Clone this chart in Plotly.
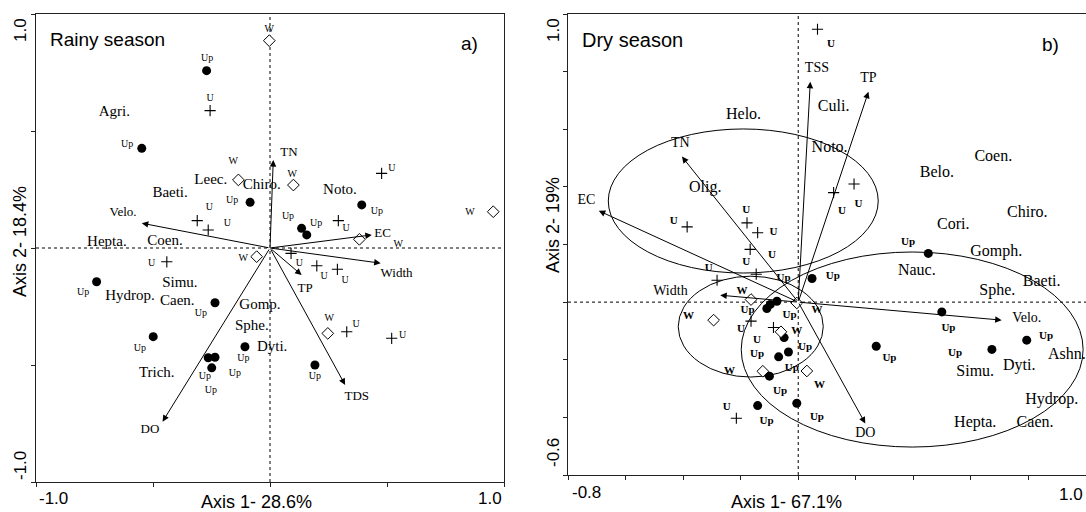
import plotly.graph_objects as go

FW, FH = 1086, 512
SERIF = "Liberation Serif, Times New Roman, serif"
SANS = "Liberation Sans, Arial, sans-serif"

# ---------------- (a) Rainy season ----------------
rainy_up_x = [-0.271, -0.548, -0.085, 0.392, 0.135, 0.157, -0.741, -0.235, -0.499, -0.264, -0.235, -0.249, -0.107, 0.192]
rainy_up_y = [0.758, 0.426, 0.195, 0.184, 0.084, 0.056, -0.144, -0.234, -0.379, -0.469, -0.467, -0.512, -0.422, -0.500]
rainy_up_lx = [-0.269, -0.611, -0.162, 0.457, 0.077, 0.197, -0.799, -0.295, -0.556, -0.278, -0.150, -0.253, -0.114, 0.192]
rainy_up_ly = [0.808, 0.444, 0.205, 0.154, 0.134, 0.103, -0.192, -0.282, -0.429, -0.550, -0.535, -0.610, -0.471, -0.551]

rainy_u_x = [-0.256, -0.311, -0.264, 0.477, 0.292, -0.441, 0.090, 0.200, 0.288, 0.328, 0.520]
rainy_u_y = [0.587, 0.117, 0.077, 0.319, 0.117, -0.059, -0.023, -0.076, -0.091, -0.358, -0.386]
rainy_u_lx = [-0.256, -0.259, -0.182, 0.521, 0.325, -0.506, 0.125, 0.231, 0.321, 0.368, 0.567]
rainy_u_ly = [0.637, 0.172, 0.103, 0.338, 0.084, -0.065, -0.068, -0.123, -0.137, -0.325, -0.372]

rainy_w_x = [-0.003, -0.135, 0.100, 0.954, 0.382, -0.057, 0.247]
rainy_w_y = [0.886, 0.291, 0.269, 0.155, 0.037, -0.037, -0.365]
rainy_w_lx = [-0.003, -0.157, 0.095, 0.855, 0.548, -0.114, 0.253]
rainy_w_ly = [0.932, 0.368, 0.312, 0.151, 0.016, -0.044, -0.300]

rainy_env = ["Velo.", "TN", "EC", "Width", "TP", "TDS", "DO"]
rainy_env_x = [-0.548, 0.014, 0.435, 0.473, 0.135, 0.321, -0.459]
rainy_env_y = [0.106, 0.376, 0.056, -0.065, -0.115, -0.585, -0.742]
rainy_env_lx = [-0.628, 0.081, 0.481, 0.541, 0.150, 0.371, -0.513]
rainy_env_ly = [0.150, 0.407, 0.063, -0.108, -0.176, -0.635, -0.778]

rainy_taxa = ["Agri.", "Leec.", "Chiro.", "Baeti.", "Noto.", "Hepta.", "Coen.", "Simu.",
              "Hydrop.", "Caen.", "Gomp.", "Sphe.", "Dyti.", "Trich."]
rainy_taxa_x = [-0.665, -0.253, -0.035, -0.427, 0.299, -0.697, -0.449, -0.385,
                -0.598, -0.396, -0.043, -0.078, 0.009, -0.484]
rainy_taxa_y = [0.582, 0.291, 0.269, 0.234, 0.248, 0.026, 0.027, -0.151,
                -0.208, -0.226, -0.244, -0.336, -0.423, -0.535]

# ---------------- (b) Dry season ----------------
dry_up_x = [0.452, 0.048, 0.499, 0.271, 0.673, 0.794, -0.097, -0.074, -0.109, -0.049, -0.068, -0.034, -0.100, -0.005, -0.141]
dry_up_y = [0.169, 0.082, -0.034, -0.153, -0.164, -0.132, -0.008, 0.003, -0.022, -0.123, -0.190, -0.173, -0.257, -0.351, -0.359]
dry_up_lx = [0.382, 0.120, 0.522, 0.317, 0.545, 0.861, -0.176, -0.051, -0.030, 0.024, -0.143, -0.022, -0.063, 0.065, -0.110]
dry_up_ly = [0.209, 0.090, -0.091, -0.195, -0.178, -0.120, -0.028, 0.082, -0.045, -0.157, -0.182, -0.230, -0.308, -0.398, -0.413]

dry_u_x = [0.067, 0.123, 0.194, -0.386, -0.178, -0.141, -0.167, -0.146, -0.282, -0.164, -0.086, -0.215]
dry_u_y = [0.947, 0.380, 0.410, 0.261, 0.275, 0.241, 0.183, 0.097, 0.076, -0.066, -0.088, -0.403]
dry_u_lx = [0.114, 0.152, 0.209, -0.433, -0.181, -0.086, -0.091, -0.181, -0.311, -0.199, -0.143, -0.248]
dry_u_ly = [0.896, 0.314, 0.340, 0.282, 0.319, 0.241, 0.163, 0.140, 0.117, -0.095, -0.132, -0.364]

dry_w_x = [-0.164, -0.005, -0.294, -0.060, -0.123, 0.030]
dry_w_y = [0.009, -0.003, -0.0625, -0.103, -0.240, -0.239]
dry_w_lx = [-0.195, 0.065, -0.381, -0.005, -0.239, 0.074]
dry_w_ly = [0.039, -0.028, -0.049, -0.100, -0.239, -0.288]

dry_env = ["TSS", "TP", "TN", "EC", "Width", "Velo.", "DO"]
dry_env_x = [0.042, 0.244, -0.404, -0.693, -0.271, 0.707, 0.233]
dry_env_y = [0.765, 0.730, 0.505, 0.317, 0.024, -0.0625, -0.421]
dry_env_lx = [0.065, 0.244, -0.410, -0.736, -0.444, 0.794, 0.233]
dry_env_ly = [0.811, 0.777, 0.551, 0.354, 0.036, -0.057, -0.456]

dry_taxa = ["Helo.", "Olig.", "Culi.", "Noto.", "Coen.", "Belo.", "Chiro.", "Cori.", "Gomph.",
            "Nauc.", "Baeti.", "Sphe.", "Simu.", "Dyti.", "Hydrop.", "Caen.", "Hepta."]
dry_taxa_x = [-0.190, -0.323, 0.123, 0.109, 0.678, 0.482, 0.796, 0.539, 0.688,
              0.412, 0.846, 0.692, 0.615, 0.768, 0.881, 0.823, 0.615]
dry_taxa_y = [0.649, 0.395, 0.678, 0.534, 0.505, 0.449, 0.310, 0.267, 0.175,
              0.109, 0.070, 0.039, -0.242, -0.222, -0.338, -0.419, -0.421]
dry_taxa_edge = ["Ashn."]
dry_taxa_edge_x = [0.868]
dry_taxa_edge_y = [-0.184]

# group envelopes (bounding boxes of ellipses, dry season): x0, x1, y0, y1
dry_ellipse_u = [-0.660, 0.278, 0.101, 0.601]
dry_ellipse_w = [-0.417, 0.087, -0.260, 0.090]
dry_ellipse_up = [-0.198, 0.990, -0.503, 0.174]

fig = go.Figure()


def add_panel(xa, ya, up, u, w, env, taxa, small_font, env_font, taxa_size):
    (ux, uy, ulx, uly) = up
    (cx, cy, clx, cly) = u
    (wx, wy, wlx, wly) = w
    (en, ex, ey, elx, ely) = env
    (tn, tx, ty) = taxa
    fig.add_trace(go.Scatter(x=ux, y=uy, mode="markers", xaxis=xa, yaxis=ya,
                             marker=dict(symbol="circle", size=9, color="black"), showlegend=False, hoverinfo="skip"))
    fig.add_trace(go.Scatter(x=cx, y=cy, mode="markers", xaxis=xa, yaxis=ya,
                             marker=dict(symbol="cross-thin", size=8, line=dict(color="black", width=1.1)),
                             showlegend=False, hoverinfo="skip"))
    fig.add_trace(go.Scatter(x=wx, y=wy, mode="markers", xaxis=xa, yaxis=ya,
                             marker=dict(symbol="diamond", size=9, color="white", line=dict(color="black", width=1)),
                             showlegend=False, hoverinfo="skip"))
    fig.add_trace(go.Scatter(x=ulx, y=uly, mode="text", text=["Up"] * len(ulx), xaxis=xa, yaxis=ya,
                             textfont=small_font, showlegend=False, hoverinfo="skip"))
    fig.add_trace(go.Scatter(x=clx, y=cly, mode="text", text=["U"] * len(clx), xaxis=xa, yaxis=ya,
                             textfont=small_font, showlegend=False, hoverinfo="skip"))
    fig.add_trace(go.Scatter(x=wlx, y=wly, mode="text", text=["W"] * len(wlx), xaxis=xa, yaxis=ya,
                             textfont=small_font, showlegend=False, hoverinfo="skip"))
    fig.add_trace(go.Scatter(x=elx, y=ely, mode="text", text=en, xaxis=xa, yaxis=ya,
                             textfont=env_font, showlegend=False, hoverinfo="skip"))
    fig.add_trace(go.Scatter(x=tx, y=ty, mode="text", text=tn, xaxis=xa, yaxis=ya,
                             textfont=dict(family=SERIF, size=taxa_size, color="black"),
                             showlegend=False, hoverinfo="skip"))
    xr = "x" if xa == "x" else "x2"
    yr = "y" if ya == "y" else "y2"
    for x_, y_ in zip(ex, ey):
        fig.add_annotation(x=x_, y=y_, ax=0, ay=0, xref=xr, yref=yr, axref=xr, ayref=yr,
                           text="", showarrow=True, arrowhead=2, arrowsize=1.3, arrowwidth=1,
                           arrowcolor="black", standoff=0, startstandoff=0)


add_panel("x", "y",
          (rainy_up_x, rainy_up_y, rainy_up_lx, rainy_up_ly),
          (rainy_u_x, rainy_u_y, rainy_u_lx, rainy_u_ly),
          (rainy_w_x, rainy_w_y, rainy_w_lx, rainy_w_ly),
          (rainy_env, rainy_env_x, rainy_env_y, rainy_env_lx, rainy_env_ly),
          (rainy_taxa, rainy_taxa_x, rainy_taxa_y),
          dict(family=SERIF, size=10, color="black"),
          dict(family=SERIF, size=13, color="black"), 15)

add_panel("x2", "y2",
          (dry_up_x, dry_up_y, dry_up_lx, dry_up_ly),
          (dry_u_x, dry_u_y, dry_u_lx, dry_u_ly),
          (dry_w_x, dry_w_y, dry_w_lx, dry_w_ly),
          (dry_env, dry_env_x, dry_env_y, dry_env_lx, dry_env_ly),
          (dry_taxa, dry_taxa_x, dry_taxa_y),
          dict(family=SERIF, size=11, color="black", weight="bold"),
          dict(family=SERIF, size=14, color="black"), 16)

fig.add_trace(go.Scatter(x=dry_taxa_edge_x, y=dry_taxa_edge_y, mode="text", text=dry_taxa_edge,
                         textposition="middle right", xaxis="x2", yaxis="y2",
                         textfont=dict(family=SERIF, size=16, color="black"),
                         showlegend=False, hoverinfo="skip", cliponaxis=False))

shapes = []
# zero lines
for xr, yr, xlo, xhi, ylo, yhi in [("x", "y", -1, 1, -1, 1), ("x2", "y2", -0.8, 1.0, -0.6, 1.0)]:
    shapes.append(dict(type="line", xref=xr, yref=yr, x0=0, x1=0, y0=ylo, y1=yhi, layer="below",
                       line=dict(color="black", width=1, dash="3px,3px")))
    shapes.append(dict(type="line", xref=xr, yref=yr, x0=xlo, x1=xhi, y0=0, y1=0, layer="below",
                       line=dict(color="black", width=1, dash="3px,3px")))
for e in (dry_ellipse_u, dry_ellipse_w, dry_ellipse_up):
    shapes.append(dict(type="circle", xref="x2", yref="y2", x0=e[0], x1=e[1], y0=e[2], y1=e[3],
                       layer="below", line=dict(color="black", width=1)))


def px(x, y):
    return x / FW, 1 - y / FH


annots = []


def lab(text, x, y, size, angle=0, family=SANS, xanchor="center"):
    ax_, ay_ = px(x, y)
    annots.append(dict(text=text, x=ax_, y=ay_, xref="paper", yref="paper", showarrow=False,
                       textangle=angle, font=dict(family=family, size=size, color="black"),
                       xanchor=xanchor, yanchor="middle"))


# panel (a) labels
lab("-1.0", 53, 498, 17)
lab("1.0", 490, 498, 17)
lab("Axis 1- 28.6%", 256, 502, 18)
lab("1.0", 20, 30, 17, -90)
lab("-1.0", 20, 466, 17, -90)
lab("Axis 2- 18.4%", 20, 242, 18, -90)
lab("Rainy season", 48, 39, 19, xanchor="left")
lab("a)", 469, 43, 19)
# panel (b) labels
lab("-0.8", 586, 492, 17)
lab("1.0", 1071, 494, 17)
lab("Axis 1- 67.1%", 786, 502, 18)
lab("1.0", 553, 30, 17, -90)
lab("-0.6", 553, 453, 17, -90)
lab("Axis 2- 19%", 553, 225, 18, -90)
lab("Dry season", 580, 40, 20, xanchor="left")
lab("b)", 1050, 44, 19)

for a in annots:
    fig.add_annotation(**a)

axis_common = dict(showgrid=False, zeroline=False, showline=True, linecolor="#222", linewidth=1.3,
                   ticks="outside", ticklen=4, tickcolor="#222", showticklabels=False)

fig.update_layout(
    width=FW, height=FH, margin=dict(l=0, r=0, t=0, b=0),
    paper_bgcolor="white", plot_bgcolor="white", showlegend=False,
    shapes=shapes,
    xaxis=dict(domain=[36 / FW, 504 / FW], range=[-1, 1], tickvals=[-1, -0.5, 0, 0.5, 1],
               mirror=True, anchor="y", **axis_common),
    yaxis=dict(domain=[30 / FH, 498 / FH], range=[-1, 1], tickvals=[-1, -0.5, 0, 0.5, 1],
               mirror=True, anchor="x", **axis_common),
    xaxis2=dict(domain=[568 / FW, 1.0], range=[-0.8, 1.0],
                tickvals=[-0.8, -0.6, -0.4, -0.2, 0, 0.2, 0.4, 0.6, 0.8, 1.0],
                mirror=True, anchor="y2", **axis_common),
    yaxis2=dict(domain=[37 / FH, 498 / FH], range=[-0.6, 1.0],
                tickvals=[-0.6, -0.4, -0.2, 0, 0.2, 0.4, 0.6, 0.8, 1.0],
                mirror=False, anchor="x2", **axis_common),
)

fig.write_html("out.html")
